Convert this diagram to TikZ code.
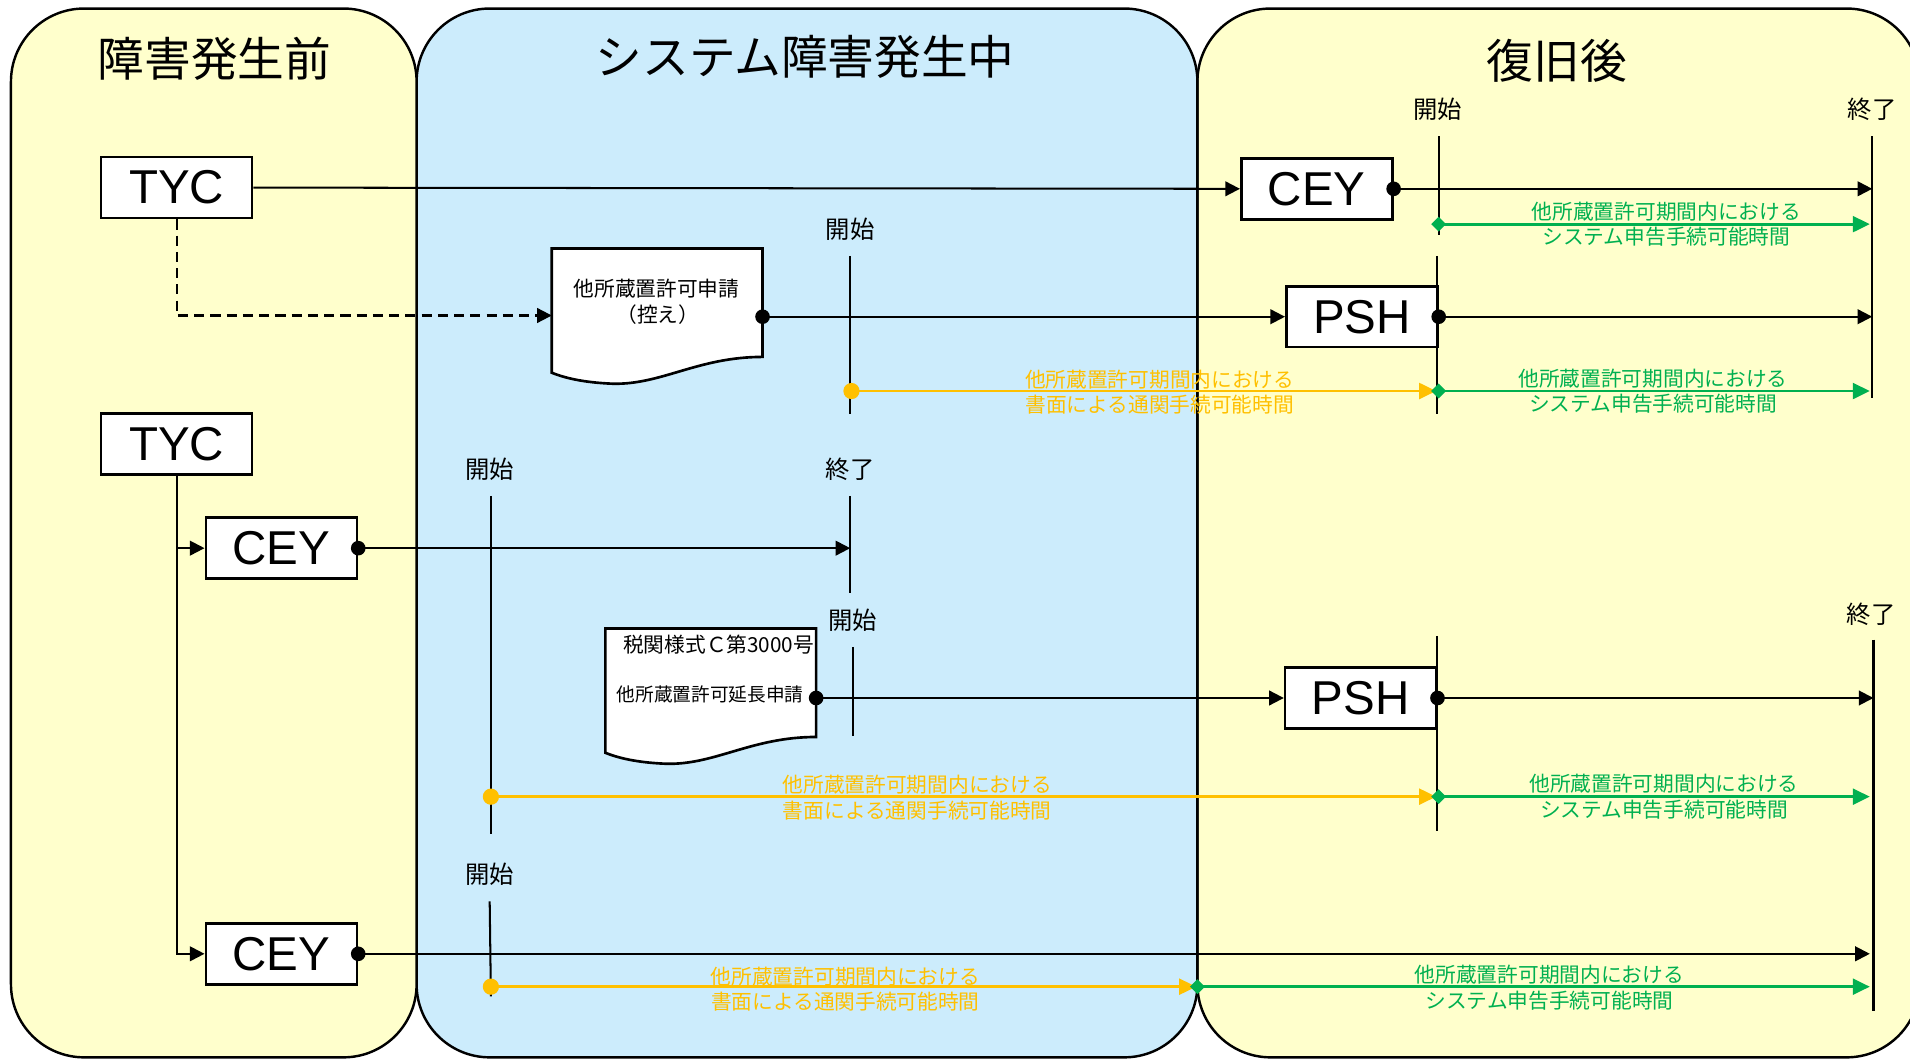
\documentclass[tikz,border=0pt]{standalone}
\usepackage{fontspec}
\setmainfont{Noto Sans CJK JP}
\newfontfamily\arialf{Liberation Sans}
\usetikzlibrary{arrows.meta,shapes.geometric}
\definecolor{pyellow}{RGB}{255,255,204}
\definecolor{pblue}{RGB}{204,236,252}
\definecolor{orng}{RGB}{255,192,0}
\definecolor{grn}{RGB}{0,176,80}
\begin{document}
\begin{tikzpicture}[x=0.6pt,y=-0.6pt,
 panel/.style={draw=black,line width=1.2pt,rounded corners=36pt},
 box/.style={draw=black,fill=white,line width=1.3pt,minimum width=74.4pt,minimum height=30pt,inner sep=0pt,font=\arialf\fontsize{23.4pt}{26pt}\selectfont},
 ttl/.style={font=\fontsize{23pt}{26pt}\selectfont},
 marklab/.style={font=\fontsize{12pt}{14pt}\selectfont,inner sep=0pt},
 markline/.style={line width=1pt},
 conn/.style={line width=1pt,-{Triangle[length=7.2pt,width=7.2pt]}},
 oconn/.style={draw=orng,line width=1.4pt,-{Triangle[length=8.4pt,width=7.8pt]}},
 gconn/.style={draw=grn,line width=1.4pt,-{Triangle[length=8.4pt,width=7.8pt]}},
 olab/.style={text=orng,align=center,inner sep=0pt,font=\fontsize{10.2pt}{12.6pt}\selectfont},
 glab/.style={text=grn,align=center,inner sep=0pt,font=\fontsize{10.2pt}{12.6pt}\selectfont},
 doct/.style={inner sep=0pt,font=\fontsize{10.2pt}{12pt}\selectfont},
 docshape/.style={draw=black,fill=white,line width=1.3pt},
 bdot/.style={circle,fill=black,inner sep=0pt,minimum size=7.2pt},
 odot/.style={circle,fill=orng,inner sep=0pt,minimum size=8pt},
 gdia/.style={diamond,fill=grn,inner sep=0pt,minimum size=7.5pt}
]
\useasboundingbox (0,0) rectangle (1568,869);
% panels
\draw[panel,fill=pyellow] (983,7) rectangle (1576,868);
\draw[panel,fill=pblue] (342,7) rectangle (983,868);
\draw[panel,fill=pyellow] (9,7) rectangle (342,868);
% titles
\node[ttl] (t1) at (176,48) {障害発生前};
\node[ttl] (t2) at (661,47) {システム障害発生中};
\node[ttl] (t3) at (1278,50) {復旧後};
% marker lines
\coordinate (m1t) at (698,210); \coordinate (m1b) at (698,340);
\coordinate (m2t) at (403,407); \coordinate (m2b) at (403,685);
\coordinate (m3t) at (698,407); \coordinate (m3b) at (698,487);
\coordinate (m4t) at (700,531); \coordinate (m4b) at (700,604);
\coordinate (m5t) at (402,740); \coordinate (m5b) at (403,818);
\coordinate (r1t) at (1181,112); \coordinate (r1b) at (1181,193);
\coordinate (r2t) at (1180,210); \coordinate (r2b) at (1180,340);
\coordinate (r3t) at (1537,112); \coordinate (r3b) at (1537,327);
\coordinate (r4t) at (1180,522); \coordinate (r4b) at (1180,682);
\coordinate (r5t) at (1538,525); \coordinate (r5b) at (1538,830);
\foreach \a in {m1,m2,m3,m4,m5,r1,r2,r3,r4,r5}{\draw[markline] (\a t) -- (\a b);}
\node[marklab] (l1) at (698,188) {開始};
\node[marklab] (l2) at (402,385) {開始};
\node[marklab] (l3) at (698,385) {終了};
\node[marklab] (l4) at (700,509) {開始};
\node[marklab] (l5) at (402,718) {開始};
\node[marklab] (l6) at (1180,90) {開始};
\node[marklab] (l7) at (1537,90) {終了};
\node[marklab] (l8) at (1536,504) {終了};
% boxes
\node[box] (tyc1) at (145,154) {TYC};
\node[box] (tyc2) at (145,364.5) {TYC};
\node[box] (cey1) at (231,450) {CEY};
\node[box] (cey2) at (231,783) {CEY};
\node[box] (cey3) at (1081,155) {CEY};
\node[box] (psh1) at (1118,260) {PSH};
\node[box] (psh2) at (1117,573) {PSH};
% documents
\begin{scope}[shift={(453,204)}]
\draw[docshape] (0,0) -- (173,0) -- (173,89) .. controls (120,89) and (90,112) .. (50,111) .. controls (25,110) and (10,106) .. (0,102) -- cycle;
\node[doct] (d1a) at (86,33) {他所蔵置許可申請};
\node[doct] (d1b) at (87,54) {（控え）};
\coordinate (doc1e) at (173,56);
\coordinate (doc1w) at (0,55);
\end{scope}
\begin{scope}[shift={(497,516)}]
\draw[docshape] (0,0) -- (173,0) -- (173,89) .. controls (120,89) and (90,112) .. (50,111) .. controls (25,110) and (10,106) .. (0,102) -- cycle;
\node[doct] (d2a) at (93,13) {税関様式Ｃ第3000号};
\node[doct,font=\fontsize{9.2pt}{11pt}\selectfont] (d2b) at (86,54) {他所蔵置許可延長申請};
\coordinate (doc2e) at (173,57);
\end{scope}
% black connectors
\draw[conn] (tyc1.east) -- (cey3.west);
\draw[conn] (cey3.east) -- (cey3.east -| r3t);
\draw[conn,dash pattern=on 5pt off 3pt] (tyc1.south) -- (tyc1.south |- doc1w) -- (doc1w);
\draw[conn] (doc1e) -- (psh1.west);
\draw[conn] (psh1.east) -- (psh1.east -| r3t);
\draw[conn] (tyc2.south) -- (tyc2.south |- cey2.west) -- (cey2.west);
\draw[conn] (tyc2.south |- cey1.west) -- (cey1.west);
\draw[conn] (cey1.east) -- (cey1.east -| m3t);
\draw[conn] (doc2e) -- (psh2.west);
\draw[conn] (psh2.east) -- (psh2.east -| r5t);
\coordinate (c2end) at (1535,783);
\draw[conn] (cey2.east) -- (c2end);
% black dots
\node[bdot] (bd1) at (cey3.east) {};
\node[bdot] (bd2) at (doc1e) {};
\node[bdot] (bd3) at (psh1.east) {};
\node[bdot] (bd4) at (cey1.east) {};
\node[bdot] (bd5) at (doc2e) {};
\node[bdot] (bd6) at (psh2.east) {};
\node[bdot] (bd7) at (cey2.east) {};
% coloured periods
\coordinate (g1s) at (1181,184); \coordinate (g1e) at (1535,184);
\coordinate (o1s) at (699,321); \coordinate (o1e) at (1179,321);
\coordinate (g2s) at (1181,321); \coordinate (g2e) at (1535,321);
\coordinate (o2s) at (403,654); \coordinate (o2e) at (1179,654);
\coordinate (g3s) at (1181,654); \coordinate (g3e) at (1535,654);
\coordinate (o3s) at (403,810); \coordinate (o3e) at (982,810);
\coordinate (g4s) at (983,810); \coordinate (g4e) at (1535,810);
\draw[oconn] (o1s) -- (o1e);
\draw[oconn] (o2s) -- (o2e);
\draw[oconn] (o3s) -- (o3e);
\draw[gconn] (g1s) -- (g1e);
\draw[gconn] (g2s) -- (g2e);
\draw[gconn] (g3s) -- (g3e);
\draw[gconn] (g4s) -- (g4e);
\node[odot] (od1) at (o1s) {};
\node[odot] (od2) at (o2s) {};
\node[odot] (od3) at (o3s) {};
\node[gdia] (gd1) at (g1s) {};
\node[gdia] (gd2) at (g2s) {};
\node[gdia] (gd3) at (g3s) {};
\node[gdia] (gd4) at (g4s) {};
\node[glab] (gl1) at (1368,184) {他所蔵置許可期間内における\\システム申告手続可能時間};
\node[olab] (ol1) at (952,322) {他所蔵置許可期間内における\\書面による通関手続可能時間};
\node[glab] (gl2) at (1357,321) {他所蔵置許可期間内における\\システム申告手続可能時間};
\node[olab] (ol2) at (753,655) {他所蔵置許可期間内における\\書面による通関手続可能時間};
\node[glab] (gl3) at (1366,654) {他所蔵置許可期間内における\\システム申告手続可能時間};
\node[olab] (ol3) at (694,812) {他所蔵置許可期間内における\\書面による通関手続可能時間};
\node[glab] (gl4) at (1272,811) {他所蔵置許可期間内における\\システム申告手続可能時間};
\end{tikzpicture}
\end{document}
